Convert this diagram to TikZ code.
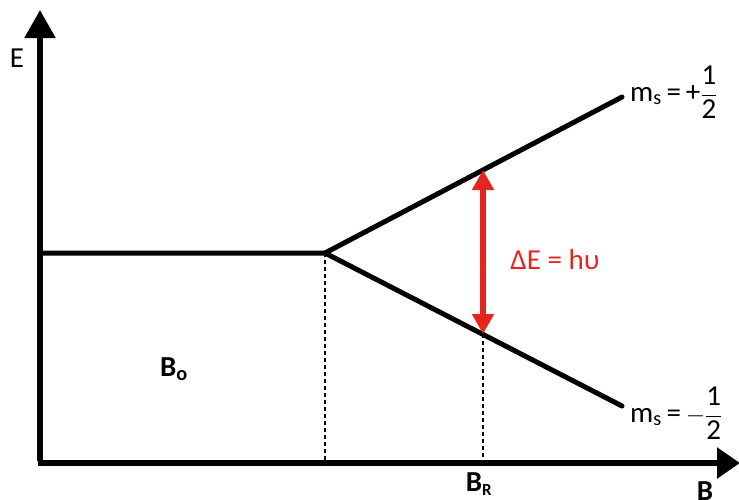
\documentclass[tikz,border=0pt]{standalone}
\usepackage{amsmath}
\usepackage{fontspec}
\setmainfont{Carlito}
\usepackage{xcolor}
\usetikzlibrary{arrows.meta}
\definecolor{splitred}{RGB}{228,38,30}

\begin{document}
\begin{tikzpicture}[x=1pt,y=-1pt]
	
	\useasboundingbox (0,0) rectangle (739,499);
	\tikzstyle{every node}=[inner sep=0pt, font=\fontsize{29}{34}\selectfont]
	\tikzstyle{level}=[line width=5pt, line cap=round]
	\tikzstyle{guide}=[line width=1.1pt, dash pattern=on 4pt off 3pt]
	
	\coordinate (O) at (40,463);
	\coordinate (Etip) at (40,10);
	\coordinate (Btip) at (740,463);
	\coordinate (L) at (40,253);
	\coordinate (S) at (325,253);
	\coordinate (U) at (622,97);
	\coordinate (D) at (622,406);
	\coordinate (RU) at (483,170);
	\coordinate (RD) at (483,334);
	\coordinate (S0) at (325,463);
	\coordinate (R0) at (483,463);
	
	% axes
	\draw[line width=5.5pt, -{Triangle[length=28pt,width=30pt]}] ([yshift=2.5pt]O) to (Etip);
	\draw[line width=5.5pt, -{Triangle[length=23pt,width=30pt]}] ([xshift=-2.5pt]O) to (Btip);
	
	% levels
	\draw[level, line join=round] (L) to (S) to (U);
	\draw[level] (S) to (D);
	
	%\draw[guide] (L) to (S0);
	\draw[guide] (S) to (S0);
	\draw[guide] (RD) to (R0);
	
	\draw[splitred, line width=6pt, {Triangle[length=20pt,width=21pt]}-{Triangle[length=20pt,width=21pt]}] (RU) to (RD);
	
	\node (E) at (17,58) {E};
	\node[anchor=west] (up) at (630,92) {m$_{\text{s}}$\,=\,+$\dfrac{\text{1}}{\text{2}}$};
	\node[anchor=west] (dn) at (630,413) {m$_{\text{s}}$\,=\,$-\dfrac{\text{1}}{\text{2}}$};
	\node[text=splitred] (dE) at (555,260) {ΔE = hυ};
	\node (Bo) at (174,369) {\textbf{B$_{\textbf{o}}$}};
	\node (BR) at (479,484) {\textbf{B$_{\text{\bfseries\fontsize{17}{20}\selectfont R}}$}};
	\node (B) at (705,491) {\textbf{B}};
	
\end{tikzpicture}
\end{document}
